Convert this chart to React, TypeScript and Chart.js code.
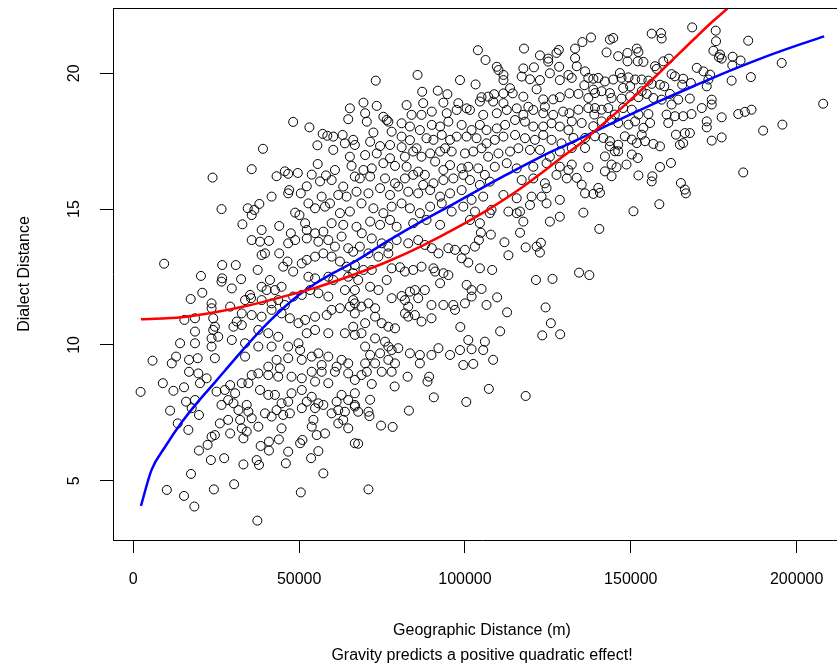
import { useEffect, useRef } from "react";
import { Chart, registerables } from "chart.js";

Chart.register(...registerables);

const FONT = "'Liberation Sans', Arial, Helvetica, sans-serif";

const xTickValues = [0, 50000, 100000, 150000, 200000];
const yTickValues = [5, 10, 15, 20];
const xLabel = ["Geographic Distance (m)", "Gravity predicts a positive quadratic effect!"];
const yLabel = "Dialect Distance";

// [geographic distance (m), dialect distance]
const pairsNear: [number, number][] = [
  [48200,18.21],[53100,18.01],[57100,17.77],[58500,17.70],[55500,17.35],[39100,17.22],[35700,16.47],[23900,16.16],[55600,16.66],[45700,16.39],[46700,16.30],[43200,16.21],[49600,16.33],[53800,16.27],[58100,16.24],[56300,16.02],[52300,15.84],[47000,15.70],
  [26600,15.00],[34500,15.03],[36500,14.97],[38000,15.19],[35700,14.78],[32900,14.44],[41700,15.46],[46700,15.58],[50500,15.58],[48800,14.87],[50100,14.78],[44000,14.38],[38700,14.23],[35700,13.86],[38200,13.80],[40900,13.83],[38700,13.31],[39700,13.37],[44000,13.37],[46700,13.74],[48800,13.86],[47500,14.11],[51800,14.48],[52300,14.23],[54800,14.11],[57300,14.17],[52300,13.92],[55800,13.80],[58800,13.86],[60800,13.62],[62800,13.99],[64800,13.56],[66300,13.43],[52800,15.21],[54800,15.03],[57800,15.09],[56800,15.46],
  [9300,12.99],[26800,12.94],[30900,12.94],[37500,12.76],[41200,12.39],[38700,12.14],[40200,12.02],[42700,12.02],[44700,12.14],[46500,13.07],[45200,12.88],[48200,12.70],[50800,13.00],[52300,13.13],[54800,13.25],[57300,13.37],[59800,13.25],[62300,13.07],[64300,12.88],[52800,12.51],[54800,12.45],[58800,12.51],[60300,12.39],[64800,12.51],[66300,12.64],[20400,12.54],[26800,12.45],[26600,12.33],[29700,12.08],[32500,12.42],[20800,11.92],[17300,11.69],[23600,11.53],[23600,11.35],[24100,10.98],[29200,11.41],[33700,11.65],[35200,11.84],[35500,11.72],[38700,11.65],[41700,11.53],[43700,11.65],[45700,11.47],[48200,11.78],[50800,11.84],[53300,12.02],[55800,11.90],[58800,11.78],[63800,12.02],[66300,11.65],[65300,11.41],[62300,11.35],[59800,11.29],[58300,11.10],[54800,11.04],[51800,10.92],[49800,10.80],[47200,10.98],[44700,11.16],[41700,11.29],[38700,11.04],[35700,11.10],[32700,11.16],[31200,10.86],[32700,10.73],[30200,10.67],[24600,10.67],[24100,10.55],[25600,10.30],[23600,10.24],[18600,10.98],[15400,10.92],[18600,10.49],[18600,10.06],[14100,10.06],[12900,9.57],[11600,9.32],[5800,9.42],[16800,9.45],[19400,9.51],[23600,9.94],[24600,9.51],[29700,10.18],[33700,10.06],[37700,10.55],[40700,10.43],[43700,10.30],[46700,9.94],[49800,10.06],[52300,10.43],[54800,10.55],[58800,10.43],[63800,10.43],[66300,10.67],[50300,9.81],[50800,9.45],[53800,9.57],[55800,9.69],[58800,9.57],[62800,9.45],[64800,9.32],[37700,9.94],[41700,9.94],[33700,9.57],[43200,9.45],[46700,9.51],[40700,9.20],[56800,9.26],[61300,9.20],[44200,9.14],
  [2200,8.27],[8900,8.59],[12100,8.31],[15300,8.44],[15900,7.91],[18600,7.97],[11100,7.58],[13400,7.11],[16600,6.87],[19800,7.42],[17600,7.67],[16800,9.01],[20100,8.59],[22100,8.77],[19600,8.95],[25100,8.28],[26600,7.79],[27600,8.34],[29200,8.52],[28600,7.97],[30200,7.85],[26100,7.11],[28600,7.24],[29200,6.74],[32200,7.24],[32700,6.93],[33200,6.56],[34200,6.81],[24600,6.68],[23600,6.62],[22400,6.32],[19800,6.11],[23400,5.76],[27400,5.83],[33200,5.60],[37200,5.76],[37900,5.58],[38400,6.28],[40900,6.44],[40900,6.11],[43900,6.52],[44700,6.93],[46700,6.07],[46000,5.64],[50300,6.38],[51000,6.50],[53600,5.83],[55800,6.09],[57300,5.27],[55300,6.68],[57800,6.74],[53800,6.99],[54300,7.24],[50800,7.67],[47200,7.48],[45200,7.42],[43200,7.60],[41700,7.36],[39700,7.48],[37700,6.99],[35700,7.30],[34700,7.54],[34200,7.79],[31700,7.60],[30700,8.22],[32700,8.59],[34700,8.59],[35700,8.89],[38200,8.34],[40700,8.16],[42700,8.16],[44700,7.85],[46700,7.91],[47700,8.22],[50800,8.34],[52300,7.91],[53800,8.09],[54800,7.67],[55800,7.85],[57300,7.79],[59800,7.48],[61800,7.60],[63800,7.54],[61300,7.91],[62800,8.16],[64800,7.97],[66800,7.73],[66800,6.38],[64800,6.93],[61800,7.11],[63300,7.24],[58800,8.59],[54800,8.65],[50800,8.77],[47700,8.83],[43700,8.83],[40700,8.89],[37700,8.95],[53800,9.01],[56800,9.01],[60800,9.01],[64800,8.95],[17400,5.25],[10100,4.66],[15300,4.44],[18400,4.05],[24300,4.68],[30400,4.87],[37400,3.53],[50500,4.57],
];

const pairsCore: [number, number][] = [
  [106200,20.49],[109600,20.24],[110100,20.12],[111600,19.94],[117600,20.18],[120800,20.22],[125100,20.43],[128400,20.24],
  [73100,19.73],[85700,19.94],[98500,19.75],[103200,19.59],[111600,19.75],[113600,19.45],[117100,19.88],[119600,19.78],[122600,19.75],[125600,20.00],[128600,19.75],[131200,19.94],
  [87100,19.32],[91800,19.36],[94700,19.23],[105000,19.12],[107000,19.14],[108800,19.23],[111600,19.26],[114400,19.26],[117600,19.14],[121600,19.41],[123600,19.04],[126600,19.04],[128600,19.12],[131500,19.26],[69400,18.92],[73400,18.80],[82400,18.83],[87400,18.90],[93500,18.92],[98000,18.90],[100500,18.71],[104500,18.96],[108500,18.96],[111600,18.90],[119100,18.77],[124100,18.77],
  [65300,18.71],[64800,18.31],[69900,18.53],[70400,18.22],[75400,18.40],[76400,18.28],[76900,18.22],[80900,18.16],[83900,18.47],[86900,18.47],[90000,18.59],[94500,18.53],[97500,18.65],[101500,18.65],[105500,18.47],[109600,18.53],[112600,18.65],[115600,18.71],[117600,18.47],[120600,18.65],[123600,18.53],[126600,18.47],[129600,18.59],[131500,18.53],
  [63100,17.73],[66300,17.55],[72400,17.82],[77900,17.85],[80900,17.67],[83400,18.04],[86400,17.91],[90000,18.10],[92500,18.04],[95000,18.22],[99000,18.10],[102000,17.91],[104500,18.10],[106500,17.91],[109600,17.97],[112100,18.10],[115100,18.28],[118100,18.22],[120600,18.04],[123600,18.04],[126100,18.16],[128600,18.04],[131200,17.91],
  [60300,17.67],[63800,17.42],[66800,17.36],[71400,17.48],[74400,17.32],[77400,17.36],[80900,17.28],[83400,17.54],[85400,17.24],[88400,17.61],[90500,17.55],[93000,17.73],[95500,17.55],[97500,17.67],[100500,17.67],[103500,17.61],[106500,17.42],[109000,17.55],[111600,17.67],[115100,17.73],[118100,17.61],[121100,17.55],[123600,17.73],[126100,17.55],[129100,17.42],
  [60300,17.18],[65300,16.93],[69900,16.99],[73400,17.05],[77400,16.87],[81900,16.93],[84400,17.12],[86900,16.93],[89500,17.05],[92500,17.12],[94000,17.24],[96000,17.12],[100000,17.05],[102500,17.12],[105000,17.24],[107000,16.93],[110100,17.05],[113600,17.12],[116100,17.24],[119600,17.18],[122600,17.18],[125600,16.93],[128600,17.12],
  [60800,16.44],[65800,16.59],[69400,16.44],[71900,16.50],[75400,16.69],[78900,16.59],[82400,16.56],[85900,16.38],[87900,16.26],[91000,16.75],[93500,16.44],[95500,16.62],[99000,16.50],[101000,16.56],[104000,16.50],[106000,16.26],[109000,16.56],[112600,16.69],[115600,16.50],[120600,16.56],[124600,16.69],[128600,16.56],[131200,16.44],
  [59800,16.07],[63300,15.83],[66800,16.20],[68300,16.13],[71400,16.20],[75900,16.13],[78900,15.95],[81900,16.13],[84400,16.26],[87400,15.89],[90500,15.95],[93500,16.07],[96500,16.13],[99500,16.26],[101500,16.07],[104500,15.89],[107500,16.01],[117100,16.07],[120600,16.13],[124100,15.95],[127600,16.26],[130700,16.13],
  [61800,15.52],[64300,15.46],[67300,15.64],[70900,15.58],[74400,15.77],[77400,15.52],[79900,15.83],[82900,15.64],[85900,15.58],[89500,15.70],[92500,15.46],[95500,15.58],[99000,15.70],[102000,15.34],[105500,15.46],[111600,15.52],[115600,15.40],[120100,15.46],[123100,15.46],[124600,15.77],[128600,15.34],
  [59300,15.21],[62300,14.85],[65300,14.91],[68800,15.21],[72400,15.03],[75400,14.85],[77900,15.09],[80900,15.21],[83400,15.03],[86400,14.85],[89500,15.09],[93000,15.21],[96000,14.91],[99500,15.09],[103000,14.91],[108000,14.97],[113100,14.91],[116600,14.91],[119600,15.15],[124600,15.21],[128600,14.72],
  [59800,14.48],[63300,14.42],[67300,14.35],[71400,14.54],[74400,14.42],[77400,14.60],[79400,14.35],[84400,14.48],[88400,14.60],[92500,14.42],[101500,14.60],[104500,14.48],[107500,14.85],[115600,14.85],[117600,14.54],[125600,14.54],
];

const pairsMid: [number, number][] = [
  [138000,21.32],[135400,21.15],[133200,20.91],[128300,20.86],[127600,20.75],[122600,20.66],[125100,20.54],[117800,20.91],[103900,20.85],[133200,20.56],[133700,20.26],[136200,20.07],[137200,19.83],[138700,19.80],[132200,19.83],[136000,19.56],[138700,19.40],[134200,19.24],[137200,19.09],[134200,18.66],[137200,18.72],[139000,18.48],[132200,18.23],[135200,18.17],[138700,18.05],[132700,17.62],[136200,17.62],[132200,17.25],[136200,17.25],[132200,16.64],[137200,16.54],[133700,16.15],[135200,15.90],
  [136200,15.58],[138700,15.56],[135700,14.87],[116600,14.13],[111900,13.78],[113100,13.30],[118300,13.59],[121600,13.62],[122900,13.76],[122600,13.40],[107800,14.06],[104800,14.13],[104200,13.86],[103000,13.62],[100000,13.50],[99000,13.19],[97000,13.50],[95000,13.56],[92000,13.37],[90000,13.56],[87900,13.68],[85900,13.86],[82900,13.74],[79400,13.86],[76900,13.62],[74900,13.74],[71900,13.92],[68900,14.11],[68300,13.62],[70900,13.37],[73900,13.25],[76900,13.37],
  [66800,12.94],[69400,12.76],[71900,12.76],[77900,12.82],[80400,12.86],[81900,12.70],[84400,12.76],[86900,12.88],[90500,12.82],[91000,12.70],[93500,12.64],[95000,12.57],[101000,13.03],[104500,12.82],[108200,12.76],[121400,12.39],[126400,12.43],[134400,12.66],[137500,12.57],[66800,12.02],[67800,12.39],[71400,12.14],[73900,12.02],[76400,12.39],[77900,11.72],[80900,11.80],[81900,11.65],[83400,11.96],[84900,12.02],[87900,12.02],[85900,11.72],[82900,11.41],[84900,11.10],[86900,10.86],[82900,11.04],[81900,11.16],[89900,11.47],[89900,10.98],[92500,12.27],[93500,11.47],[96500,11.47],[97000,11.29],[100000,11.53],[100500,12.21],[102000,12.02],[102000,11.78],[105000,12.06],[106500,11.47],[109700,11.75],[112700,11.20],[124300,11.38],[125900,10.80],[123300,10.35],[128700,10.39],[110600,10.50],[98600,10.66],
  [66800,11.53],[68800,11.41],[70900,11.53],[72900,11.35],[66800,11.16],[69900,10.80],[72900,11.04],[74900,10.80],[76900,10.67],[78900,10.61],[66800,10.37],[68800,10.43],[72900,10.24],[75900,10.12],[76900,9.94],[77900,9.81],[79900,9.88],[69900,9.94],[71400,9.63],[74400,9.69],[72900,9.32],[76900,9.45],[78900,9.32],[69900,9.32],[83400,9.69],[86400,9.63],[86400,9.32],[89900,9.63],[92000,9.88],[95500,9.63],[98500,9.81],[101000,10.18],[102000,9.84],[105500,9.81],[106000,10.12],[108500,9.45],[99500,9.26],[102500,9.30],
  [66800,8.71],[68800,8.89],[70400,9.01],[74900,9.01],[77900,9.01],[82700,8.83],[89200,8.83],[88700,8.65],[71900,8.56],[78800,8.47],[90600,8.07],[100400,7.90],[107200,8.38],[118300,8.12],[66800,8.22],[71400,7.98],[66800,7.79],[67800,7.54],[70900,7.54],[71200,7.38],[83100,7.58],[74700,7.03],[78200,6.98],[67800,6.36],[70900,4.68],
];

const pairsFar: [number, number][] = [
  [168500,21.69],[156300,21.46],[159100,21.48],[159300,21.28],[175600,21.57],[175700,21.18],[185400,21.20],[174900,20.83],[176900,20.69],[177400,20.54],[176600,20.59],[180700,20.61],[183100,20.47],[180600,20.29],[143700,21.24],[144700,21.30],[142700,20.77],[146200,20.63],[149000,20.75],[151800,20.91],[152300,20.78],[149000,20.44],[152100,20.44],[153800,20.42],[157300,20.26],[157800,20.16],[159800,20.44],[161500,20.54],[169900,20.20],[171900,20.07],[173900,19.95],[173400,19.77],[172900,19.52],[162300,19.97],[163300,19.89],[165800,19.80],[165500,19.58],[168100,19.64],[160100,19.52],[158800,19.58],[180400,19.73],[186200,19.86],[195500,20.38],[208000,18.88],
  [140200,19.83],[142200,19.70],[144700,19.77],[146700,20.01],[147200,19.83],[149300,19.85],[149800,19.52],[147700,19.46],[151300,19.77],[153300,19.77],[155300,19.73],[156300,19.61],[139200,19.27],[141200,19.34],[143700,19.27],[144200,19.09],[147200,19.07],[149800,19.15],[152300,19.12],[153300,19.34],[154800,19.24],[156800,19.09],[159300,19.03],[161800,19.24],[164300,19.03],[167800,19.07],[162300,18.85],[160800,18.48],[161300,18.17],[163300,18.42],[165800,18.42],[168300,18.50],[171400,18.72],[174400,19.03],[174400,18.85],[177400,18.38],[182400,18.50],[184400,18.58],[186400,18.66],[172900,18.23],[172900,18.01],[189900,17.89],[195700,18.11],
  [139200,18.72],[141200,18.66],[143200,18.72],[145200,18.48],[147700,18.72],[150300,18.66],[152300,18.48],[155300,18.50],[141200,18.23],[144200,18.29],[146200,18.17],[149300,18.11],[151300,18.23],[153800,17.99],[155800,18.17],[139200,17.68],[141700,17.62],[143700,17.50],[146200,17.37],[148200,17.68],[150300,17.56],[151800,17.43],[154300,17.50],[156800,17.40],[158800,17.31],[163600,17.74],[166300,17.80],[167800,17.80],[164800,17.37],[165800,17.43],[174400,17.52],[177400,17.64],
  [142200,16.94],[144200,16.64],[145700,16.54],[148700,16.64],[150300,17.01],[152100,16.88],[143700,17.31],[145200,17.13],[158800,16.55],[162100,16.70],[142200,16.39],[144200,16.21],[152300,16.24],[156300,16.02],[156500,16.21],[165100,15.96],[166300,15.72],[183900,16.35],[140200,15.78],[146200,17.13],[153300,17.74],
  [140700,15.60],[150800,14.92],[158600,15.18],[166600,15.58],[140500,14.27],
];

// fitted curves
const blueFit: [number, number][] = [
  [2300,4.07],[5500,5.40],[9600,6.25],[14600,7.15],[19600,7.92],[24600,8.62],[27600,9.05],[34700,10.05],[41700,10.95],[48700,11.72],[54800,12.25],[60800,12.68],[66800,13.07],[76900,13.84],[86900,14.55],[97000,15.22],[104000,15.70],[112100,16.24],[122100,16.88],[132200,17.46],[139200,17.86],[149300,18.45],[159300,19.01],[169400,19.55],[179400,20.07],[189500,20.56],[199500,21.00],[208300,21.36],
];
const redFit: [number, number][] = [
  [2300,10.94],[14600,11.02],[24600,11.20],[34700,11.45],[44700,11.76],[54800,12.10],[66800,12.60],[76900,13.08],[86900,13.64],[97000,14.28],[107000,14.98],[116100,15.70],[123100,16.33],[129100,16.90],[135200,17.45],[139200,17.88],[149300,18.95],[159300,20.10],[169400,21.30],[174400,21.88],[179400,22.42],[182000,22.75],
];

const toXY = (arr: [number, number][]) => arr.map(([x, y]) => ({ x, y }));

const topBorder = {
  id: "topBorder",
  afterDraw(chart: any) {
    const { ctx, chartArea } = chart;
    ctx.save();
    ctx.strokeStyle = "#000";
    ctx.lineWidth = 1;
    ctx.beginPath();
    ctx.moveTo(chartArea.left, chartArea.top + 0.5);
    ctx.lineTo(chartArea.right, chartArea.top + 0.5);
    ctx.stroke();
    ctx.restore();
  },
};

const zeroPad = (s: any) => {
  s.paddingLeft = 0;
  s.paddingRight = 0;
  s.paddingTop = 0;
  s.paddingBottom = 0;
};

export default function App() {
  const ref = useRef<HTMLCanvasElement>(null);

  useEffect(() => {
    if (!ref.current) return;
    const points = [...toXY(pairsNear), ...toXY(pairsCore), ...toXY(pairsMid), ...toXY(pairsFar)];
    const chart = new Chart(ref.current, {
      type: "scatter",
      data: {
        datasets: [
          {
            data: toXY(redFit),
            showLine: true,
            borderColor: "#FF0000",
            borderWidth: 2.5,
            pointRadius: 0,
            cubicInterpolationMode: "monotone",
            fill: false,
          } as any,
          {
            data: toXY(blueFit),
            showLine: true,
            borderColor: "#0000FF",
            borderWidth: 2.5,
            pointRadius: 0,
            cubicInterpolationMode: "monotone",
            fill: false,
          } as any,
          {
            data: points,
            showLine: false,
            pointRadius: 4.5,
            pointHoverRadius: 4.5,
            pointBorderWidth: 1,
            pointBorderColor: "#000",
            pointBackgroundColor: "rgba(0,0,0,0)",
          } as any,
        ],
      },
      options: {
        responsive: false,
        animation: false,
        events: [],
        devicePixelRatio: 1,
        layout: { autoPadding: false, padding: { top: 8, right: 0, bottom: 0, left: 0 } },
        plugins: { legend: { display: false }, tooltip: { enabled: false }, title: { display: false } },
        scales: {
          x: {
            type: "linear",
            min: -6120,
            max: 216390,
            afterBuildTicks: (s: any) => {
              s.ticks = xTickValues.map((v) => ({ value: v }));
            },
            afterFit: (s: any) => {
              s.height = 131;
              zeroPad(s);
            },
            grid: { display: true, drawOnChartArea: false, drawTicks: true, tickLength: 13, color: "#000", lineWidth: 1 },
            border: { display: true, color: "#000", width: 1 },
            ticks: {
              autoSkip: false,
              maxRotation: 0,
              minRotation: 0,
              padding: 17.4,
              color: "#000",
              font: { family: FONT, size: 16 },
              callback: (v: any) => String(v),
            },
            title: {
              display: true,
              text: xLabel,
              color: "#000",
              font: { family: FONT, size: 16, lineHeight: 1.5625 },
              padding: { top: 0, bottom: 2.5 },
            },
          },
          y: {
            type: "linear",
            min: 2.817,
            max: 22.404,
            afterBuildTicks: (s: any) => {
              s.ticks = yTickValues.map((v) => ({ value: v }));
            },
            afterFit: (s: any) => {
              s.width = 113;
              zeroPad(s);
            },
            grid: { display: true, drawOnChartArea: false, drawTicks: true, tickLength: 13, color: "#000", lineWidth: 1 },
            border: { display: true, color: "#000", width: 1 },
            ticks: {
              autoSkip: false,
              minRotation: 90,
              maxRotation: 90,
              crossAlign: "center",
              padding: 17,
              color: "#000",
              font: { family: FONT, size: 16 },
              callback: (v: any) => String(v),
            },
            title: {
              display: true,
              text: yLabel,
              color: "#000",
              font: { family: FONT, size: 16 },
              padding: { top: 15.4, bottom: 0 },
            },
          },
        },
      } as any,
      plugins: [topBorder],
    });
    return () => chart.destroy();
  }, []);

  // The original figure's plot box runs past the right edge of the image, so the
  // canvas is a little wider than the visible 837px frame and is cropped by it.
  return (
    <div style={{ position: "fixed", left: 0, top: 0, width: 837, height: 671, overflow: "hidden", background: "#fff" }}>
      <canvas ref={ref} width={851} height={671} style={{ display: "block" }} />
    </div>
  );
}
